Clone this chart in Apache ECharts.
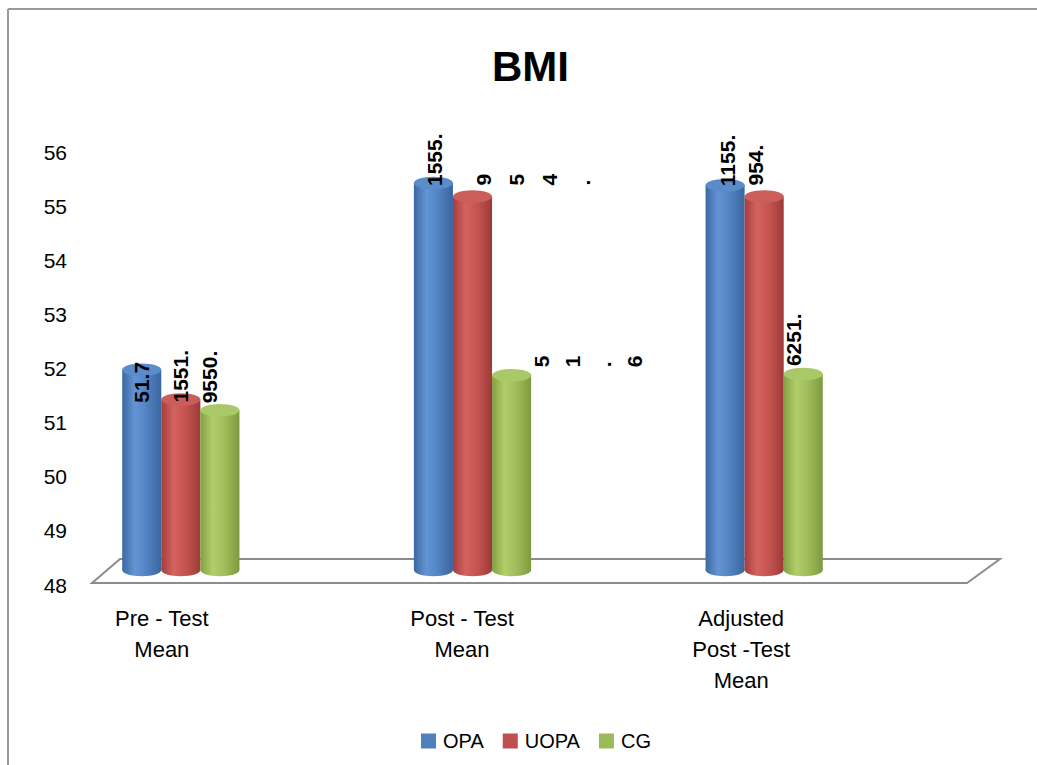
<!DOCTYPE html>
<html><head><meta charset="utf-8">
<script src="https://cdn.jsdelivr.net/npm/echarts@6/dist/echarts.min.js"></script>
<style>html,body{margin:0;padding:0;background:#fff}#main{width:1037px;height:765px}</style>
</head><body><div id="main"></div>
<script>
// ---- data ----
const categories = ['Pre - Test\nMean', 'Post - Test\nMean', 'Adjusted\nPost -Test\nMean'];
const seriesNames = ['OPA', 'UOPA', 'CG'];
const opaValues  = [51.7, 55.15, 55.11];
const uopaValues = [51.15, 54.9, 54.9];
const cgValues   = [50.95, 51.6, 51.62];
// data labels exactly as they appear in the picture
const opaLabels  = ['51.7', '1555.', '1155.'];
const uopaLabels = ['1551.', '9\n5\n4\n.', '954.'];
const cgLabels   = ['9550.', '5\n1\n.\n6', '6251.'];
const yMin = 48, yMax = 56, yStep = 1;

// ---- styling ----
const FONT = '"Liberation Sans", Arial, sans-serif';
const palette = ['#4F81BD', '#C0504D', '#9BBB59'];
const sideStops = [
  [['#3c68a3', 0], ['#6494d3', 0.32], ['#5283c2', 0.62], ['#3a659e', 1]],
  [['#a33e3b', 0], ['#d4635f', 0.32], ['#c55451', 0.62], ['#9c3a37', 1]],
  [['#82a042', 0], ['#b0cf6b', 0.32], ['#9fbe5b', 0.62], ['#7d9a3f', 1]]
];
const topFills = ['#5a8bcb', '#cc5e5a', '#a9c867'];
// label nudges [dx, dy] relative to bar top centre (style only)
const labelNudge = [
  [[0, 33], [1, 3], [2, 1]],
  [[0, 3], [-25, -11], [-9, -11]],
  [[-10, -7], [-5, -8], [-10, -8]]
];
const lineHeights = [[32, 32, 32], [32, 33, 32], [32, 31, 32]];
const catPad = [38, 21, 46];

const valueSets = [opaValues, uopaValues, cgValues];
const labelSets = [opaLabels, uopaLabels, cgLabels];

function cylinder(si) {
  return function (params, api) {
    const i = params.dataIndex;
    const v = api.value(1);
    const c = api.coord([api.value(0), v]);
    const b = api.coord([api.value(0), yMin]);
    const band = api.size([1, 0])[0];
    const w = band * 0.134;
    const cx = c[0] + (si - 1) * w;
    const ry = w * 0.16;
    const side = new echarts.graphic.LinearGradient(0, 0, 1, 0,
      sideStops[si].map(s => ({ offset: s[1], color: s[0] })));
    const lbl = labelSets[si][i];
    const nd = labelNudge[si][i];
    const multi = lbl.indexOf('\n') >= 0;
    return {
      type: 'group',
      children: [
        { type: 'ellipse', shape: { cx: cx, cy: b[1], rx: w / 2, ry: ry }, style: { fill: side } },
        { type: 'rect', shape: { x: cx - w / 2, y: c[1], width: w, height: b[1] - c[1] }, style: { fill: side } },
        { type: 'ellipse', shape: { cx: cx, cy: c[1], rx: w / 2, ry: ry }, style: { fill: topFills[si] } },
        {
          type: 'text', x: cx + nd[0] + (multi ? w / 2 : 0), y: c[1] + nd[1], rotation: Math.PI / 2, z2: 100,
          style: {
            text: lbl, font: 'bold 21px ' + FONT, fill: '#000',
            align: 'left', verticalAlign: multi ? 'top' : 'middle', lineHeight: lineHeights[si][i]
          }
        }
      ]
    };
  };
}

const chart = echarts.init(document.getElementById('main'), null, { renderer: 'svg' });
const option = {
  animation: false,
  backgroundColor: '#fff',
  color: palette,
  textStyle: { fontFamily: FONT },
  title: {
    text: 'BMI', left: 487, top: 40,
    textStyle: { fontSize: 42, fontWeight: 'bold', color: '#000', fontFamily: FONT }
  },
  legend: {
    data: seriesNames, left: 416, top: 726, itemWidth: 15, itemHeight: 15, itemGap: 19,
    icon: 'rect', textStyle: { fontSize: 20, color: '#000', fontFamily: FONT, padding: [0, 0, 0, 2] }
  },
  grid: [
    { left: 35, right: 127, top: 137, bottom: 195 },
    { left: 75, right: 37, top: 152, bottom: 180 }
  ],
  xAxis: [
    {
      type: 'category', gridIndex: 0,
      data: categories.map((c, i) => ({ value: c, textStyle: { padding: [0, catPad[i], 0, 0] } })),
      axisLine: { show: false }, axisTick: { show: false },
      axisLabel: { interval: 0, margin: 33, fontSize: 22, lineHeight: 31, color: '#000', fontFamily: FONT }
    },
    { type: 'value', gridIndex: 1, show: false, min: 0, max: 1 }
  ],
  yAxis: [
    { type: 'value', gridIndex: 0, min: yMin, max: yMax, show: false },
    {
      type: 'value', gridIndex: 1, min: yMin, max: yMax, interval: yStep,
      axisLine: { show: false }, axisTick: { show: false }, splitLine: { show: false },
      axisLabel: { fontSize: 21, color: '#000', margin: 8, fontFamily: FONT }
    }
  ],
  series: seriesNames.map((n, si) => ({
    name: n, type: 'custom', xAxisIndex: 0, yAxisIndex: 0,
    renderItem: cylinder(si),
    encode: { x: 0, y: 1 },
    data: valueSets[si].map((v, i) => [i, v])
  }))
};
chart.setOption(option);

// decoration: 3D floor and outer frame
const y48 = chart.convertToPixel({ yAxisIndex: 1 }, yMin);
chart.setOption({
  graphic: [
    { type: 'polygon', z: 0, shape: { points: [[92, y48 - 2], [120, y48 - 26], [1000, y48 - 26], [967, y48 - 2]] },
      style: { fill: '#fff', stroke: '#8c8c8c', lineWidth: 2 } },
    { type: 'line', shape: { x1: 8, y1: 9, x2: 8, y2: 765 }, style: { stroke: '#9a9a9a', lineWidth: 2 } },
    { type: 'line', shape: { x1: 8, y1: 9, x2: 1037, y2: 9 }, style: { stroke: '#9a9a9a', lineWidth: 2 } }
  ]
});
</script></body></html>
